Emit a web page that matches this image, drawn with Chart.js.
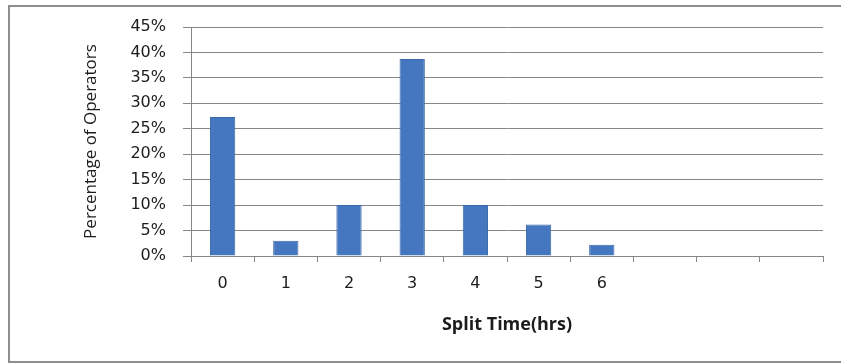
<!DOCTYPE html>
<html>
<head>
<meta charset="utf-8">
<script src="https://cdn.jsdelivr.net/npm/chart.js@4.4.1/dist/chart.umd.min.js"></script>
<style>
    body { margin: 0; background: #fff; }
    #frame {
        position: absolute; left: 8px; top: 5px;
        width: 860px; height: 354px;
        border: 2px solid #8e8e8e;
    }
    #chartBox { position: absolute; left: 0; top: 0; }
</style>
</head>
<body>
<div id="frame"></div>
<div id="chartBox"><canvas id="splitChart" width="841" height="363"></canvas></div>
<script>
// split time categories (last three slots are empty in the original)
const categories = ["0", "1", "2", "3", "4", "5", "6", "", "", ""];
// percentage of operators for each category
const operatorPct = [27.3, 3.0, 10.0, 38.7, 10.0, 6.2, 2.2, null, null, null];
const yTicks = { min: 0, max: 45, step: 5 };

const gridColor = "#868686";
const textColor = "#1c1c1c";

const ctx = document.getElementById("splitChart").getContext("2d");

new Chart(ctx, {
    type: "bar",
    data: {
        labels: categories,
        datasets: [
            {
                data: operatorPct,
                backgroundColor: "#4477bf",
                borderColor: "#3a68a8",
                borderWidth: 1,
                categoryPercentage: 1,
                barPercentage: 0.4
            }
        ]
    },
    options: {
        responsive: false,
        animation: false,
        layout: { padding: { left: 0, right: 18, top: 27, bottom: 0 } },
        plugins: {
            legend: { display: false },
            tooltip: { enabled: false }
        },
        scales: {
            x: {
                afterFit: (scale) => { scale.height = 107; },
                border: { display: true, color: gridColor, width: 1 },
                grid: {
                    offset: true,
                    drawOnChartArea: false,
                    drawTicks: true,
                    tickLength: 6,
                    color: gridColor
                },
                ticks: {
                    padding: 12,
                    color: textColor,
                    font: { family: "DejaVu Sans", size: 16 }
                },
                title: {
                    display: true,
                    text: "Split Time(hrs)",
                    color: textColor,
                    padding: { top: 0, bottom: 27 },
                    font: { family: "Open Sans", size: 18, weight: "bold" }
                }
            },
            y: {
                min: yTicks.min,
                max: yTicks.max,
                afterFit: (scale) => { scale.width = 191; },
                border: { display: true, color: gridColor, width: 1 },
                grid: {
                    color: gridColor,
                    tickLength: 8
                },
                ticks: {
                    stepSize: yTicks.step,
                    padding: 17,
                    color: textColor,
                    font: { family: "DejaVu Sans", size: 16 },
                    callback: (v) => v + "%"
                },
                title: {
                    display: true,
                    text: "Percentage of Operators",
                    color: textColor,
                    padding: { top: 81, bottom: 0 },
                    font: { family: "Open Sans", size: 17 }
                }
            }
        }
    }
});
</script>
</body>
</html>
